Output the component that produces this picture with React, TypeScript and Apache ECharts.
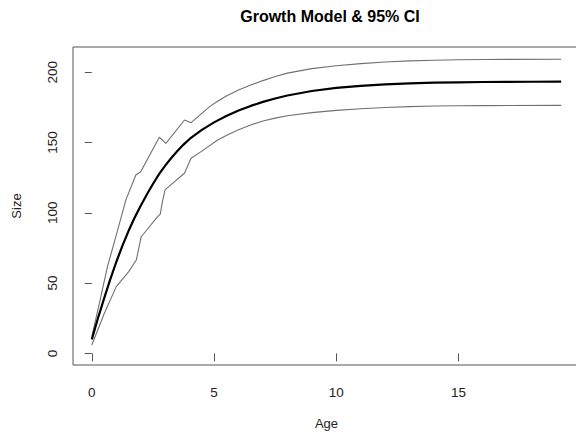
import React, { useEffect, useRef } from "react";
import * as echarts from "echarts";

const TITLE = "Growth Model & 95% CI";
const X_NAME = "Age";
const Y_NAME = "Size";
const X_TICKS = [0, 5, 10, 15];
const Y_TICKS = [0, 50, 100, 150, 200];

const meanAges = [0, 0.25, 0.5, 0.75, 1, 1.25, 1.5, 1.75, 2, 2.25, 2.5, 2.75, 3, 3.25, 3.5, 3.75, 4, 4.5, 5, 5.5, 6, 6.5, 7, 7.5, 8, 9, 10, 11, 12, 13, 14, 15, 16, 17, 18, 19.2];
const meanSize = [10, 25, 39, 52.5, 65, 76.5, 87, 96.5, 105, 113, 120.5, 127.5, 133.5, 139, 144, 148.5, 152.5, 159, 164.3, 168.8, 172.7, 176, 178.9, 181.3, 183.4, 186.6, 188.8, 190.3, 191.3, 192, 192.5, 192.8, 193, 193.1, 193.2, 193.3];

const upperAges = [0, 0.34, 0.64, 1.02, 1.39, 1.8, 2.0, 2.76, 3.03, 3.79, 4.06, 4.82, 5.1, 5.5, 6, 6.5, 7, 7.5, 8, 9, 10, 11, 12, 13, 14, 15, 16, 19.2];
const upperSize = [12, 38, 61.7, 85.4, 109, 126.9, 129.2, 153.7, 149.4, 166, 164.1, 175.5, 178.8, 183, 187.3, 190.9, 194, 196.9, 199.3, 202.5, 204.6, 206.1, 207.2, 208, 208.5, 208.8, 209, 209.2];

const lowerAges = [0, 0.5, 1.0, 1.5, 1.82, 2.02, 2.08, 2.69, 2.8, 2.9, 3.0, 3.17, 3.79, 4.06, 4.47, 5.15, 5.5, 6, 6.5, 7, 7.5, 8, 9, 10, 11, 12, 13, 14, 15, 16, 19.2];
const lowerSize = [6, 28, 47.5, 58, 66.4, 83, 84.2, 97.2, 99, 109, 116.5, 119, 128.1, 138.8, 143.5, 151.8, 155, 159, 162.5, 165.3, 167.3, 169, 171.2, 172.8, 174, 174.9, 175.5, 175.9, 176.1, 176.2, 176.4];

const FONT = "'Liberation Sans', Arial, sans-serif";

export default function App() {
  const ref = useRef<HTMLDivElement>(null);
  useEffect(() => {
    const chart = echarts.init(ref.current!, null, { renderer: "svg" });
    const zip = (a: number[], b: number[]) => a.map((x, i) => [x, b[i]]);
    chart.setOption({
      animation: false,
      backgroundColor: "#ffffff",
      title: {
        text: TITLE,
        left: 325,
        top: 3,
        textAlign: "center",
        textStyle: { fontFamily: FONT, fontWeight: "bold", fontSize: 16, color: "#000" },
      },
      grid: {
        left: 73,
        top: 47,
        width: 507,
        height: 318,
        show: true,
        borderColor: "#555",
        borderWidth: 1,
        outerBoundsMode: "none",
      },
      xAxis: {
        type: "value",
        min: -0.77,
        max: 19.97,
        name: X_NAME,
        nameLocation: "middle",
        nameGap: 52,
        nameTextStyle: { fontFamily: FONT, fontSize: 13, color: "#222" },
        axisLine: { show: false },
        axisTick: { show: true, customValues: X_TICKS, length: 8, lineStyle: { color: "#555" } },
        axisLabel: { customValues: X_TICKS, margin: 20, fontFamily: FONT, fontSize: 13.5, color: "#222" },
        splitLine: { show: false },
      },
      yAxis: {
        type: "value",
        min: -8.25,
        max: 217.9,
        name: Y_NAME,
        nameLocation: "middle",
        nameGap: 50,
        nameRotate: 90,
        nameTextStyle: { fontFamily: FONT, fontSize: 13, color: "#222" },
        axisLine: { show: false },
        axisTick: { show: true, customValues: Y_TICKS, length: 7, lineStyle: { color: "#555" } },
        axisLabel: { customValues: Y_TICKS, rotate: 90, margin: 14, fontFamily: FONT, fontSize: 13.5, color: "#222" },
        splitLine: { show: false },
      },
      series: [
        {
          type: "line",
          data: zip(upperAges, upperSize),
          showSymbol: false,
          lineStyle: { color: "#707070", width: 1.1 },
        },
        {
          type: "line",
          data: zip(lowerAges, lowerSize),
          showSymbol: false,
          lineStyle: { color: "#707070", width: 1.1 },
        },
        {
          type: "line",
          data: zip(meanAges, meanSize),
          showSymbol: false,
          lineStyle: { color: "#000", width: 2.2 },
        },
      ],
    });
    return () => chart.dispose();
  }, []);
  return <div ref={ref} style={{ position: "absolute", left: 0, top: 0, width: 576, height: 437 }} />;
}
